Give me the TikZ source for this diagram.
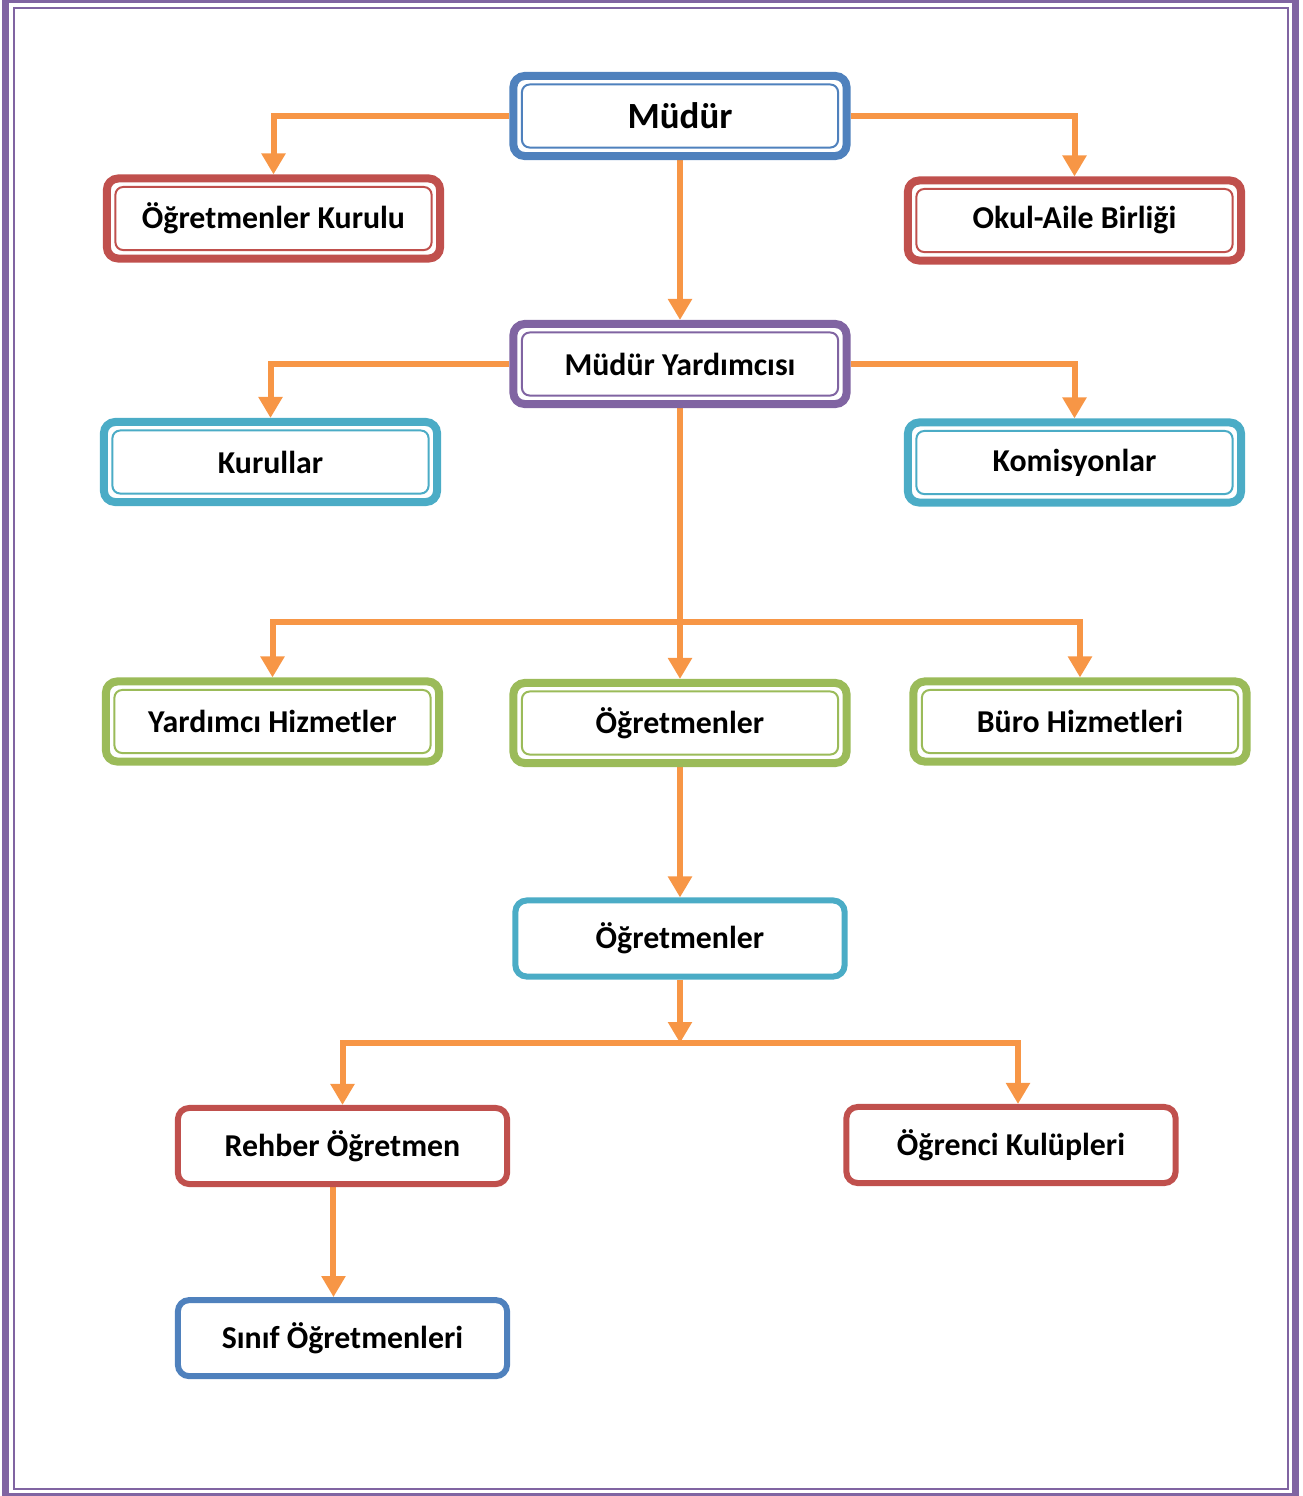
\documentclass[tikz,border=0pt]{standalone}
\usepackage{fontspec}
\setmainfont{Carlito}
\usetikzlibrary{arrows.meta, positioning, backgrounds}
\definecolor{bluec}{HTML}{4F81BD}
\definecolor{redc}{HTML}{C0504D}
\definecolor{purc}{HTML}{8064A2}
\definecolor{cyanc}{HTML}{4BACC6}
\definecolor{greenc}{HTML}{9BBB59}
\definecolor{oranc}{HTML}{F79646}
\def\lbl{\bfseries\fontsize{9.05}{11}\selectfont}
\tikzstyle{box} = [rectangle, rounded corners=3.2pt, fill=white, text=black, inner sep=0pt, align=center, font=\lbl]
\tikzstyle{con} = [oranc, line width=0.06cm, -{Triangle[width=0.23cm,length=0.21cm]}]
\tikzset{
  dbox/.style={box, draw=#1, line width=0.08cm, minimum width=3.33cm, minimum height=0.8cm,
    path picture={\draw[#1, line width=0.02cm, rounded corners=2.2pt]
      ([shift={(0.085cm,-0.085cm)}]path picture bounding box.north west) rectangle
      ([shift={(-0.085cm,0.085cm)}]path picture bounding box.south east);}},
  sbox/.style={box, draw=#1, line width=0.06cm, minimum width=3.29cm, minimum height=0.76cm}
}

\begin{document}
\begin{tikzpicture}[x=0.01cm, y=-0.01cm]

  \useasboundingbox (0,0) rectangle (1303,1496);
  % page frame
  \draw[purc, line width=0.07cm] (5.5,-0.5) rectangle (1295.5,1496.5);
  \draw[purc, line width=0.02cm] (14,8) rectangle (1288,1489);

  \node (mudur) [dbox=bluec, font=\bfseries\fontsize{10.5}{12}\selectfont] at (680,116) {Müdür};
  \node (ogk)   [dbox=redc] at (273.5,218.5) {Öğretmenler Kurulu};
  \node (okul)  [dbox=redc] at (1074.5,220.5) {Okul-Aile Birliği};

  \node (my)    [dbox=purc] at (680,364) {Müdür Yardımcısı};
  \node (kur)   [dbox=cyanc] at (270.5,462) {Kurullar};
  \node (kom)   [dbox=cyanc] at (1074.5,462.5) {Komisyonlar};

  \node (yh)    [dbox=greenc] at (272.5,721.5) {Yardımcı Hizmetler};
  \node (ogr)   [dbox=greenc] at (680,723) {Öğretmenler};
  \node (buro)  [dbox=greenc] at (1080,721.5) {Büro Hizmetleri};

  \node (ogr2)  [sbox=cyanc] at (680,938.5) {Öğretmenler};

  \node (reh)   [sbox=redc] at (342.5,1146) {Rehber Öğretmen};
  \node (kulup) [sbox=redc] at (1011,1145) {Öğrenci Kulüpleri};
  \node (sinif) [sbox=bluec, below=1.1cm of reh] {Sınıf Öğretmenleri};

  \coordinate (j1) at (680,622);
  \coordinate (j2) at (680,1043);

  \begin{scope}[on background layer]
    \draw[con] (mudur.west) -| (ogk.north);
    \draw[con] (mudur.east) -| (okul.north);
    \draw[con] (mudur.south) -- (my.north);

    \draw[con] (my.west) -| (kur.north);
    \draw[con] (my.east) -| (kom.north);
    \draw[con] (my.south) -- (ogr.north);
    \draw[con] (j1) -| (yh.north);
    \draw[con] (j1) -| (buro.north);

    \draw[con] (ogr.south) -- (ogr2.north);
    \draw[con] (ogr2.south) -- (j2);
    \draw[con] (j2) -| (reh.north);
    \draw[con] (j2) -| ([xshift=0.07cm]kulup.north);

    \draw[con] ([xshift=-0.09cm]reh.south) -- ([xshift=-0.09cm]sinif.north);
  \end{scope}

\end{tikzpicture}
\end{document}
